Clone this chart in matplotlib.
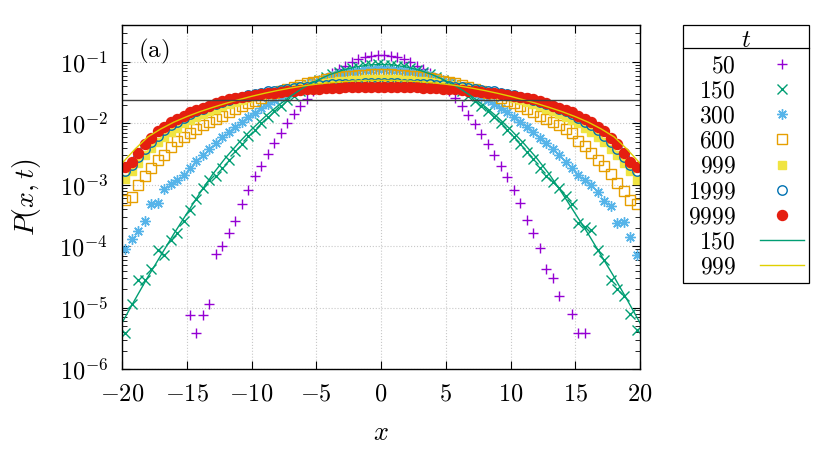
import numpy as np
import matplotlib
matplotlib.use('Agg')
import matplotlib.pyplot as plt
from matplotlib.lines import Line2D
from matplotlib.ticker import LogLocator, NullFormatter

plt.rcParams['mathtext.fontset'] = 'cm'
plt.rcParams['font.family'] = 'serif'
plt.rcParams['font.serif'] = ['cmr10', 'DejaVu Serif']

# ---- data (log10 P(x,t)) ----
x = np.arange(-19.75, 20, 0.5)      # 80 lattice positions
x_th = np.arange(-20, 21)          # theory curves

t_labels = ['50', '150', '300', '600', '999', '1999', '9999']
th_labels = ['150', '999']

nan = np.nan
logp_50 = [nan, nan, nan, nan, nan, nan, nan, nan, nan, nan,
           -5.116, -5.416, -5.116, -4.937, -4.132, -3.997, -3.785, -3.594, -3.305, -3.077,
           -2.86, -2.69, -2.506, -2.326, -2.163, -2.0, -1.853, -1.713, -1.60, -1.47,
           -1.36, -1.27, -1.18, -1.115, -1.06, -1.005, -0.956, -0.923, -0.902, -0.881,
           -0.881, -0.902, -0.925, -0.958, -1.004, -1.062, -1.113, -1.182, -1.265, -1.355,
           -1.466, -1.585, -1.72, -1.86, -2.005, -2.17, -2.33, -2.51, -2.70, -2.87,
           -3.088, -3.289, -3.566, -3.785, -4.03, -4.366, -4.512, -4.812, nan, -5.11,
           -5.416, -5.416, nan, nan, nan, nan, nan, nan, nan, nan]

logp_150 = [-5.416, -4.937, -4.556, -4.556, -4.366, -4.067, -4.15, -3.90, -3.785, -3.59,
            -3.414, -3.237, -3.06, -2.925, -2.85, -2.72, -2.59, -2.45, -2.34, -2.21,
            -2.11, -2.0, -1.90, -1.80, -1.715, -1.625, -1.55, -1.475, -1.41, -1.345,
            -1.295, -1.24, -1.2, -1.16, -1.125, -1.095, -1.075, -1.055, -1.047, -1.04,
            -1.042, -1.045, -1.058, -1.073, -1.098, -1.128, -1.157, -1.2, -1.245, -1.29,
            -1.352, -1.408, -1.48, -1.548, -1.632, -1.71, -1.805, -1.895, -2.0, -2.103,
            -2.22, -2.33, -2.46, -2.585, -2.72, -2.86, -2.953, -3.06, -3.186, -3.317,
            -3.62, -3.687, -3.74, -4.056, -4.23, -4.556, -4.69, -4.817, -5.10, -5.37]

logp_300 = [-4.04, -3.876, -3.752, -3.589, -3.316, -3.289, -3.07, -2.99, -2.925, -2.84,
            -2.73, -2.62, -2.52, -2.42, -2.32, -2.23, -2.14, -2.06, -1.975, -1.9,
            -1.823, -1.753, -1.687, -1.624, -1.564, -1.509, -1.457, -1.409, -1.365, -1.324,
            -1.287, -1.254, -1.224, -1.198, -1.176, -1.157, -1.143, -1.132, -1.124, -1.12,
            -1.121, -1.125, -1.131, -1.144, -1.156, -1.177, -1.197, -1.225, -1.253, -1.288,
            -1.323, -1.366, -1.41, -1.456, -1.51, -1.563, -1.625, -1.686, -1.754, -1.822,
            -1.898, -1.974, -2.058, -2.141, -2.231, -2.322, -2.42, -2.518, -2.624, -2.729,
            -2.841, -2.925, -3.006, -3.116, -3.262, -3.344, -3.62, -3.605, -3.85, -4.15]

logp_600 = [-3.25, -3.2, -3.0, -2.86, -2.73, -2.6, -2.51, -2.38, -2.29, -2.22,
            -2.15, -2.09, -2.03, -1.98, -1.932, -1.875, -1.821, -1.77, -1.72, -1.673,
            -1.628, -1.585, -1.545, -1.506, -1.47, -1.437, -1.405, -1.376, -1.349, -1.324,
            -1.302, -1.281, -1.263, -1.248, -1.234, -1.223, -1.214, -1.207, -1.203, -1.2,
            -1.2, -1.203, -1.207, -1.214, -1.223, -1.234, -1.248, -1.263, -1.281, -1.302,
            -1.324, -1.349, -1.376, -1.405, -1.437, -1.47, -1.506, -1.545, -1.585, -1.628,
            -1.673, -1.72, -1.77, -1.821, -1.875, -1.932, -1.98, -2.03, -2.09, -2.15,
            -2.28, -2.37, -2.48, -2.6, -2.7, -2.83, -2.97, -3.1, -3.24, -3.32]

logp_999 = [-2.90, -2.77, -2.65, -2.52, -2.40, -2.31, -2.22, -2.14, -2.07, -2.0,
            -1.94, -1.89, -1.84, -1.80, -1.76, -1.72, -1.68, -1.65, -1.62, -1.59,
            -1.56, -1.535, -1.51, -1.49, -1.465, -1.445, -1.425, -1.405, -1.385, -1.37,
            -1.355, -1.34, -1.325, -1.315, -1.305, -1.297, -1.29, -1.285, -1.282, -1.28,
            -1.28, -1.282, -1.285, -1.29, -1.297, -1.305, -1.315, -1.325, -1.34, -1.355,
            -1.37, -1.385, -1.405, -1.425, -1.445, -1.465, -1.49, -1.51, -1.535, -1.56,
            -1.59, -1.62, -1.65, -1.68, -1.72, -1.76, -1.80, -1.84, -1.89, -1.94,
            -2.0, -2.07, -2.14, -2.22, -2.31, -2.41, -2.52, -2.64, -2.78, -2.92]

logp_1999 = [-2.78, -2.68, -2.54, -2.41, -2.30, -2.2, -2.11, -2.03, -1.97, -1.91,
             -1.85, -1.80, -1.76, -1.72, -1.68, -1.65, -1.62, -1.59, -1.565, -1.54,
             -1.52, -1.50, -1.48, -1.465, -1.45, -1.435, -1.42, -1.41, -1.40, -1.39,
             -1.38, -1.372, -1.365, -1.36, -1.356, -1.353, -1.351, -1.35, -1.35, -1.35,
             -1.35, -1.35, -1.35, -1.351, -1.353, -1.356, -1.36, -1.365, -1.372, -1.38,
             -1.39, -1.40, -1.41, -1.42, -1.435, -1.45, -1.465, -1.48, -1.50, -1.52,
             -1.54, -1.565, -1.59, -1.62, -1.65, -1.68, -1.72, -1.76, -1.80, -1.85,
             -1.91, -1.97, -2.03, -2.11, -2.2, -2.30, -2.41, -2.54, -2.68, -2.78]

logp_9999 = [-2.708, -2.626, -2.48, -2.343, -2.235, -2.13, -2.055, -1.985, -1.93, -1.876,
             -1.82, -1.783, -1.745, -1.713, -1.674, -1.64, -1.61, -1.59, -1.571, -1.556,
             -1.541, -1.527, -1.513, -1.50, -1.487, -1.475, -1.465, -1.455, -1.447, -1.44,
             -1.433, -1.427, -1.422, -1.418, -1.415, -1.412, -1.41, -1.408, -1.407, -1.406,
             -1.406, -1.407, -1.408, -1.41, -1.412, -1.415, -1.418, -1.422, -1.427, -1.433,
             -1.44, -1.447, -1.455, -1.465, -1.475, -1.487, -1.50, -1.513, -1.527, -1.541,
             -1.556, -1.571, -1.59, -1.61, -1.64, -1.674, -1.713, -1.745, -1.783, -1.82,
             -1.876, -1.93, -1.985, -2.055, -2.13, -2.235, -2.343, -2.48, -2.626, -2.708]

# theory curves at integer x
logth_150 = [-5.25, -4.87, -4.5, -4.15, -3.8, -3.47, -3.14, -2.83, -2.56, -2.32,
             -2.1, -1.9, -1.72, -1.56, -1.42, -1.306, -1.21, -1.136, -1.083, -1.051,
             -1.04,
             -1.051, -1.083, -1.136, -1.21, -1.306, -1.42, -1.56, -1.72, -1.9, -2.1,
             -2.32, -2.56, -2.83, -3.14, -3.47, -3.8, -4.15, -4.5, -4.87, -5.25]
logth_999 = [-2.65, -2.42, -2.22, -2.09, -1.98, -1.89, -1.81, -1.74, -1.675, -1.615,
             -1.56, -1.51, -1.465, -1.425, -1.39, -1.362, -1.34, -1.322, -1.31, -1.302,
             -1.30,
             -1.302, -1.31, -1.322, -1.34, -1.362, -1.39, -1.425, -1.465, -1.51, -1.56,
             -1.615, -1.675, -1.74, -1.81, -1.89, -1.98, -2.09, -2.22, -2.42, -2.65]

p_uniform = 1.0 / 41

x_ticks = [-20, -15, -10, -5, 0, 5, 10, 15, 20]
y_ticks = [1e-6, 1e-5, 1e-4, 1e-3, 1e-2, 1e-1]
y_exps = [-6, -5, -4, -3, -2, -1]

# ---- styles ----
series = [logp_50, logp_150, logp_300, logp_600, logp_999, logp_1999, logp_9999]
colors = ['#9400d3', '#009e73', '#56b4e9', '#e69f00', '#f0e442', '#0072b2', '#e51e10']
markers = ['+', 'x', (8, 2, 0), 's', 's', 'o', 'o']
sizes = [7, 6.5, 7.5, 6.8, 6.3, 6.8, 7.2]
filled = [True, True, True, False, True, False, True]

fig = plt.figure(figsize=(8.25, 4.5), dpi=100)
ax = fig.add_axes([122/825, 1-369/450, (640-122)/825, (369-25)/450])

handles = []
for vals, c, m, s, f, lab in zip(series, colors, markers, sizes, filled, t_labels):
    h, = ax.plot(x, 10**np.array(vals), linestyle='none', marker=m, ms=s,
                 color=c, mec=c, mfc=(c if f else 'none'), mew=1.0, label='$'+lab+'$')
    handles.append(h)

h1, = ax.plot(x_th, 10**np.array(logth_150), color='#009e73', lw=1.0, label='$150$')
h2, = ax.plot(x_th, 10**np.array(logth_999), color='#e0d000', lw=1.0, label='$999$')
handles += [h1, h2]

ax.axhline(p_uniform, color='#404040', lw=1.0)

ax.set_yscale('log')
ax.set_xlim(-20, 20)
ax.set_ylim(1e-6, 0.40)
ax.set_xticks(x_ticks, ['$%d$' % v for v in x_ticks])
ax.set_yticks(y_ticks, ['$10^{%d}$' % e for e in y_exps])
ax.yaxis.set_minor_locator(LogLocator(base=10, subs=np.arange(2, 10)))
ax.yaxis.set_minor_formatter(NullFormatter())
ax.tick_params(which='both', direction='in', top=True, right=True, labelsize=17.5)
ax.tick_params(which='major', length=6, width=0.8, pad=10)
ax.tick_params(which='minor', length=3.5, width=0.6)
ax.grid(True, which='major', color='#c8c8c8', linestyle=':', lw=0.8)
for sp in ax.spines.values():
    sp.set_linewidth(1.0)

ax.set_xlabel('$x$', fontsize=19, labelpad=12)
ax.set_ylabel('$P(x,t)$', fontsize=20, labelpad=12)
ax.text(0.03, 0.965, r'$\mathrm{(a)}$', transform=ax.transAxes, fontsize=18, va='top', ha='left')

leg = fig.legend(handles=handles, loc='upper left', bbox_to_anchor=(683/825, 1-25/450),
                 title='$t$', markerfirst=False, fancybox=False, edgecolor='black',
                 fontsize=17, title_fontsize=18, handlelength=1.9, handletextpad=1.0,
                 labelspacing=0.13, borderpad=0.2, borderaxespad=0, framealpha=1)
leg.get_frame().set_linewidth(0.9)
leg.set_zorder(5)

fig.canvas.draw()
renderer = fig.canvas.get_renderer()
fb = leg.get_frame().get_window_extent(renderer)
tb = leg.get_title().get_window_extent(renderer)
inv = fig.transFigure.inverted()
sep_y = fb.y1 - 23
(x0, y0), (x1, _) = inv.transform([(fb.x0, sep_y), (fb.x1, sep_y)])
fig.add_artist(Line2D([x0, x1], [y0, y0], transform=fig.transFigure,
                      color='black', lw=0.9, zorder=20))

fig.savefig('out.png', dpi=100)
